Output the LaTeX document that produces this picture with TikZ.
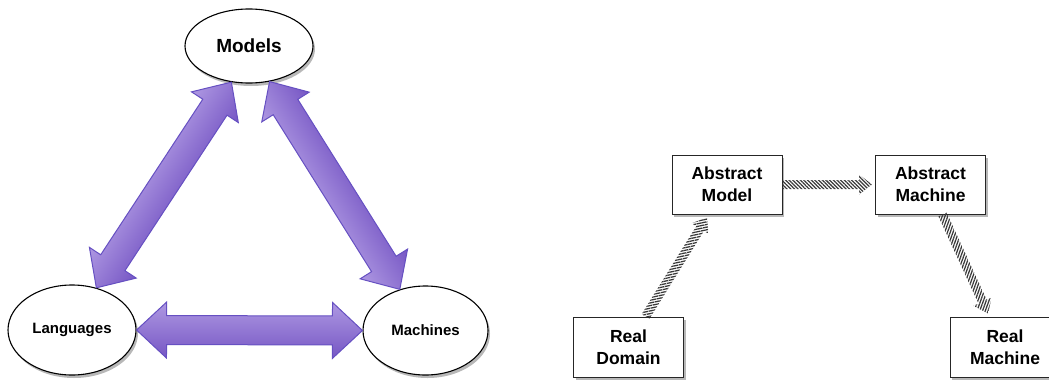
\documentclass[tikz,border=0pt]{standalone}
\usepackage{fontspec}
\setmainfont{Liberation Sans}
\usetikzlibrary{calc,shapes.geometric,shadows,patterns.meta}

\definecolor{plight}{HTML}{AE98E2}
\definecolor{pdark}{HTML}{7656C4}
\definecolor{pedge}{HTML}{6650C2}

\tikzset{
  shad/.style={drop shadow={shadow xshift=2pt,shadow yshift=-3pt,opacity=0.28,fill=black}},
  ell/.style={ellipse, draw=black, line width=1.1pt, fill=white, inner sep=0pt, shad},
  box/.style={rectangle, draw=black!85, line width=1pt, fill=white, minimum width=110pt,
    align=center, inner sep=0pt, font=\bfseries\fontsize{17.5}{22}\selectfont, shad},
  fatarrow/.style={draw=pedge, line width=1pt, top color=plight, bottom color=pdark},
}

% double arrow between two anchors, shaded across its width
\newcommand\fatarr[3]{%
  \path let \p1=(#1), \p2=(#2), \n1={atan2(\y2-\y1,\x2-\x1)}, \n2={veclen(\x2-\x1,\y2-\y1)} in
    coordinate (#3) at ($(\p1)!0.5!(\p2)$)
    \pgfextra{\xdef\fatang{\n1}\pgfmathsetmacro\tmph{\n2/2}\xdef\fath{\tmph}};
  \begin{scope}[transform canvas={shift={(#3)},rotate=\fatang}]
    \path[fatarrow] (-\fath,0) -- ({-\fath+30},28) -- ({-\fath+30},14.5) -- ({\fath-30},14.5)
      -- ({\fath-30},28) -- (\fath,0) -- ({\fath-30},-28) -- ({\fath-30},-14.5)
      -- ({-\fath+30},-14.5) -- ({-\fath+30},-28) -- cycle;
  \end{scope}}

\newcommand\hatcharr[3]{%
  \coordinate (ht) at ($(#2)!13pt!(#1)$);
  \path[pattern={Lines[angle=#3,distance=2.6pt,line width=1.25pt]}, pattern color=black!78]
    ($(#1)!4.5pt!90:(#2)$) -- ($(ht)!4.5pt!-90:(#1)$) -- ($(ht)!10pt!-90:(#1)$) -- (#2)
    -- ($(ht)!10pt!90:(#1)$) -- ($(ht)!4.5pt!90:(#1)$) -- ($(#1)!4.5pt!-90:(#2)$) -- cycle;}

\begin{document}
\begin{tikzpicture}[x=1pt,y=-1pt]
\useasboundingbox (0,0) rectangle (1049,380);

% left diagram
\node[ell, minimum width=128pt, minimum height=74pt, font=\bfseries\fontsize{19}{22}\selectfont] (mod) at (249,46) {Models};
\node[ell, minimum width=128pt, minimum height=90pt, font=\bfseries\fontsize{15}{18}\selectfont] (lang) at (72,330) {Languages};
\node[ell, minimum width=125pt, minimum height=89pt, font=\bfseries\fontsize{15}{18}\selectfont] (mach) at (425.5,330.5) {Machines};

\fatarr{lang.60}{mod.-116}{m1}
\fatarr{mach.122}{mod.-60}{m2}
\fatarr{lang.east}{mach.west}{m3}

% right diagram
\node[box, minimum height=59pt] (am) at (727,184.5) {Abstract\\Model};
\node[box, minimum height=59pt] (amach) at (930.5,184.5) {Abstract\\Machine};
\node[box, minimum height=60pt] (rd) at (628.5,347) {Real\\Domain};
\node[box, minimum height=60pt] (rm) at (1005,347) {Real\\Machine};

\coordinate (h1a) at ([xshift=17pt]rd.north);
\coordinate (h1b) at ([xshift=-20pt,yshift=-3pt]am.south);
\coordinate (h3a) at ([xshift=12pt]amach.south);
\coordinate (h3b) at ([xshift=-17pt,yshift=3pt]rm.north);
\coordinate (h2a) at (am.east);
\coordinate (h2b) at ([xshift=-3pt]amach.west);

\hatcharr{h1a}{h1b}{12}
\hatcharr{h2a}{h2b}{-45}
\hatcharr{h3a}{h3b}{70}
\end{tikzpicture}
\end{document}
